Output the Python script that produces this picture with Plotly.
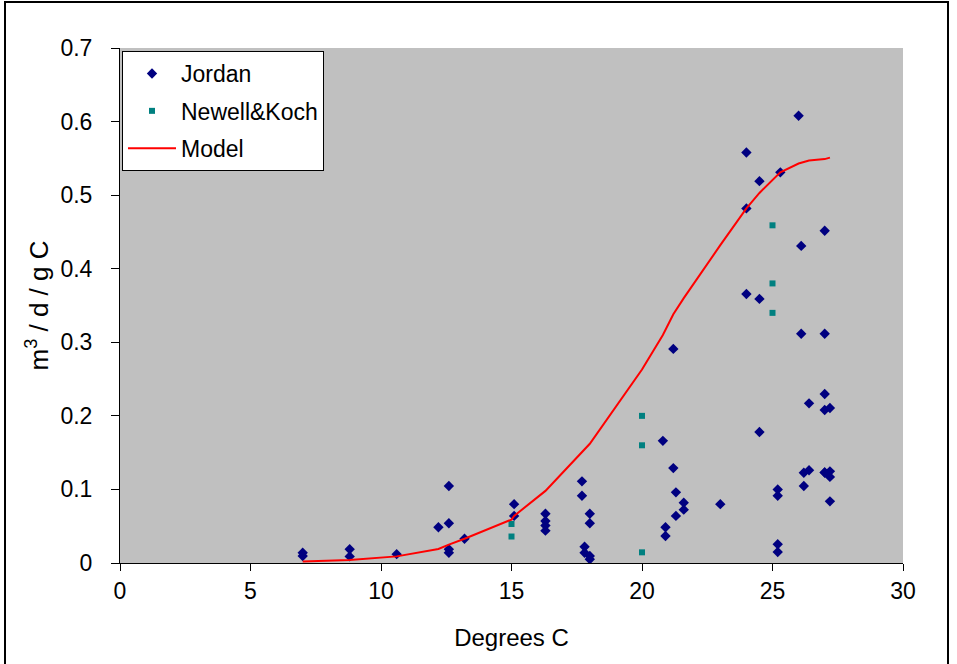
import plotly.graph_objects as go

# Jordan data (temperature, rate)
jordan_x = [7.0, 7.0, 8.8, 8.8, 10.6, 12.2, 12.6, 12.6, 12.6, 12.6, 13.2,
            15.1, 15.1, 16.3, 16.3, 16.3, 16.3, 17.7, 17.7, 17.8, 17.8,
            18.0, 18.0, 18.0, 18.0, 20.8, 20.9, 20.9, 21.2, 21.2, 21.3, 21.3,
            21.6, 21.6, 23.0, 24.0, 24.0, 24.0, 24.5, 24.5, 24.5, 25.2, 25.2,
            25.2, 25.2, 25.3, 26.0, 26.1, 26.1, 26.2, 26.2, 26.4, 26.4,
            27.0, 27.0, 27.0, 27.0, 27.0, 27.0, 27.2, 27.2, 27.2, 27.2]
jordan_y = [0.014, 0.0095, 0.0186, 0.009, 0.012, 0.0485, 0.1047, 0.054, 0.0186, 0.014, 0.033,
            0.080, 0.064, 0.067, 0.057, 0.051, 0.044, 0.111, 0.0915, 0.022, 0.014,
            0.067, 0.054, 0.0095, 0.005, 0.166, 0.0485, 0.0367, 0.291, 0.129, 0.096, 0.064,
            0.082, 0.0725, 0.080, 0.558, 0.482, 0.3656, 0.519, 0.359, 0.178, 0.100, 0.0915,
            0.0254, 0.015, 0.531, 0.608, 0.431, 0.3117, 0.1227, 0.1047, 0.217, 0.126,
            0.4517, 0.3117, 0.2297, 0.208, 0.123, 0.123, 0.2107, 0.1246, 0.117, 0.0838]

# Newell & Koch data
newell_x = [15.0, 15.0, 20.0, 20.0, 20.0, 25.0, 25.0, 25.0]
newell_y = [0.053, 0.036, 0.200, 0.160, 0.0145, 0.459, 0.380, 0.340]

# Model curve
model_x = [7.0, 7.9, 8.8, 10.6, 12.2, 12.6, 13.2, 15.0, 15.1, 16.3, 17.7, 18.0,
           20.0, 20.8, 21.2, 21.6, 23.0, 24.0, 24.5, 25.0, 25.3, 26.0, 26.4, 27.0, 27.2]
model_y = [0.002, 0.003, 0.004, 0.009, 0.019, 0.025, 0.033, 0.059, 0.064, 0.098, 0.150, 0.162,
           0.263, 0.310, 0.338, 0.360, 0.432, 0.482, 0.503, 0.520, 0.531, 0.543, 0.547, 0.549, 0.551]

x_ticks = [0, 5, 10, 15, 20, 25, 30]
y_ticks = [0, 0.1, 0.2, 0.3, 0.4, 0.5, 0.6, 0.7]
y_tick_labels = ["0", "0.1", "0.2", "0.3", "0.4", "0.5", "0.6", "0.7"]

FONT = "Liberation Sans, Arial, sans-serif"

fig = go.Figure()
fig.add_trace(go.Scatter(x=jordan_x, y=jordan_y, mode="markers", name="Jordan",
                         legendgroup="a",
                         marker=dict(symbol="diamond", size=8, color="#000080")))
fig.add_trace(go.Scatter(x=newell_x, y=newell_y, mode="markers", name="Newell&Koch",
                         legendgroup="b",
                         marker=dict(symbol="square", size=6, color="#008080")))
fig.add_trace(go.Scatter(x=model_x, y=model_y, mode="lines", name="Model",
                         legendgroup="c",
                         line=dict(color="#FF0000", width=2)))

W, H = 957, 664
L, T = 120, 48
pw, ph = 903 - 120, 563 - 48
R, B = W - L - pw, H - T - ph

def px(xp):
    return (xp - L) / pw

def py(yp):
    return (H - B - yp) / ph

fig.update_layout(
    width=W, height=H,
    margin=dict(l=L, r=R, t=T, b=B),
    paper_bgcolor="white",
    plot_bgcolor="#C0C0C0",
    font=dict(family=FONT, size=23, color="black"),
    showlegend=True,
    legend=dict(x=px(122), y=py(51), xanchor="left", yanchor="top",
                bgcolor="white", bordercolor="black", borderwidth=1,
                font=dict(size=23), itemwidth=48, tracegroupgap=4.5),
    xaxis=dict(range=[0, 30], tickvals=x_ticks, ticks="outside", ticklen=7,
               tickcolor="black", showline=True, linecolor="black", linewidth=1,
               showgrid=False, zeroline=False, tickfont=dict(size=23),
               title=dict(text="Degrees C", font=dict(size=24), standoff=26)),
    yaxis=dict(range=[0, 0.7], tickvals=y_ticks, ticktext=y_tick_labels,
               ticks="outside", ticklen=8, tickcolor="black", showline=True,
               linecolor="black", linewidth=1, showgrid=False, zeroline=False,
               tickfont=dict(size=23), ticklabelstandoff=14,
               title=dict(text="m<sup>3</sup> / d / g C", font=dict(size=26), standoff=4)),
    shapes=[
        dict(type="rect", xref="paper", yref="paper",
             x0=px(5), x1=px(948), y0=py(690), y1=py(2),
             line=dict(color="black", width=2), fillcolor="rgba(0,0,0,0)", layer="below"),
    ],
)

fig.write_html("out.html", config={"displayModeBar": False},
               post_script="document.body.style.margin='0';document.body.style.overflow='hidden';")
